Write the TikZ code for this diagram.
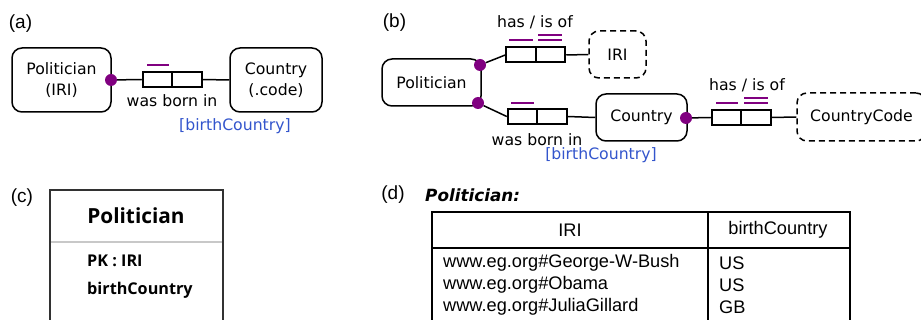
\documentclass[tikz,border=0pt]{standalone}
\usepackage{fontspec}
\setmainfont{DejaVu Sans}
\newfontfamily\labfont{Liberation Sans}
\newfontfamily\clsfont{Open Sans}
\usetikzlibrary{calc}
\definecolor{roleP}{RGB}{128,0,128}
\definecolor{nameB}{RGB}{51,85,204}
\definecolor{clsline}{RGB}{50,50,50}
\definecolor{clssep}{RGB}{200,200,200}
\begin{document}
\begin{tikzpicture}[x=1pt,y=-1pt,
  ent/.style={draw,line width=1.5pt,rounded corners=10pt,inner sep=0pt,align=center,
    font=\fontsize{15.7}{21}\selectfont},
  valent/.style={ent,dash pattern=on 6pt off 4pt},
  rolebox/.style={draw,line width=2pt,minimum width=29.5pt,minimum height=15pt,inner sep=0pt},
  conn/.style={line width=1.5pt},
  roledot/.style={circle,fill=roleP,minimum size=12pt,inner sep=0pt},
  ubar/.style={draw=roleP,line width=2.5pt},
  dtxt/.style={font=\fontsize{15.7}{18}\selectfont,inner sep=0pt},
  rname/.style={dtxt,text=nameB},
  lab/.style={font=\labfont\fontsize{19}{22}\selectfont,inner sep=0pt},
  ttxt/.style={font=\labfont\fontsize{18.2}{21}\selectfont,inner sep=0pt},
  ctxt/.style={font=\clsfont\bfseries\fontsize{16.2}{19}\selectfont,inner sep=0pt},
  tab/.style={line width=2pt},
]
\useasboundingbox (0,0) rectangle (921,320);

% ---------- (a)
\node[lab] (la) at (20.5,23.5) {(a)};
\node[ent,minimum width=99pt,minimum height=64pt] (polA) at (61.5,80) {Politician\\(IRI)};
\node[ent,minimum width=92pt,minimum height=64pt] (ctyA) at (276,80) {Country\\(.code)};
\node[rolebox] (rA1) at (157.5,79.5) {};
\node[rolebox] (rA2) at (187,79.5) {};
\node[roledot] (dA) at (111,80) {};
\draw[conn] (dA) -- (rA1.west);
\draw[conn] (rA2.east) -- (ctyA.west);
\draw[ubar] (147,65) -- (169,65);
\node[dtxt] (wbA) at (172,101) {was born in};
\node[rname] (bcA) at (235,126) {[birthCountry]};

% ---------- (b)
\node[lab] (lb) at (394.5,22.5) {(b)};
\node[ent,minimum width=99pt,minimum height=47pt] (polB) at (431.5,82.5) {Politician};
\node[valent,minimum width=57pt,minimum height=47pt] (iri) at (617.5,54.5) {IRI};
\node[ent,minimum width=91pt,minimum height=47pt] (ctyB) at (641.5,117.5) {Country};
\node[valent,minimum width=129pt,minimum height=48pt] (cc) at (861.5,117) {CountryCode};
\node[rolebox] (rB1) at (521,55) {};
\node[rolebox] (rB2) at (550.5,55) {};
\node[rolebox] (rB3) at (522.5,116.5) {};
\node[rolebox] (rB4) at (552,116.5) {};
\node[rolebox] (rB5) at (726.5,117.5) {};
\node[rolebox] (rB6) at (756,117.5) {};
\node[roledot] (dB1) at (480,65) {};
\node[roledot] (dB2) at (478,103) {};
\node[roledot] (dB3) at (686,118) {};
\draw[conn] (dB1) -- (rB1.west);
\draw[conn] (rB2.east) -- (iri.west);
\draw[conn] (dB2) -- (rB3.west);
\draw[conn] (rB4.east) -- (ctyB.west);
\draw[conn] (dB3) -- (rB5.west);
\draw[conn] (rB6.east) -- (cc.west);
\draw[ubar] (509,40) -- (533,40);
\draw[ubar] (538,35) -- (562,35);
\draw[ubar] (538,40) -- (562,40);
\draw[ubar] (511,103) -- (534,103);
\draw[ubar] (716,103) -- (738,103);
\draw[ubar] (744,98) -- (768,98);
\draw[ubar] (744,103) -- (768,103);
\node[dtxt] (hB1) at (535,22) {has / is of};
\node[dtxt] (hB2) at (747,85) {has / is of};
\node[dtxt] (wbB) at (537,140) {was born in};
\node[rname] (bcB) at (601,155) {[birthCountry]};

% ---------- (c)
\node[lab] (lc) at (22,198) {(c)};
\draw[line width=2pt,draw=clsline] (50,326) -- (50,190) -- (223,190) -- (223,326);
\draw[line width=2pt,draw=clssep] (51,242) -- (222,242);
\node[ctxt,font=\clsfont\bfseries\fontsize{20.8}{24}\selectfont] (ctit) at (136,216) {Politician};
\node[ctxt,anchor=west] (cpk) at (87,261) {PK : IRI};
\node[ctxt,anchor=west] (cbc) at (87,290) {birthCountry};

% ---------- (d)
\node[lab] (ld) at (393,195) {(d)};
\node[font=\bfseries\itshape\fontsize{16.8}{19}\selectfont,inner sep=0pt,anchor=west] (dtit) at (425,195) {Politician:};
\draw[tab] (432,326) -- (432,212) -- (850,212) -- (850,326);
\draw[tab] (432,248) -- (850,248);
\draw[tab] (708,212) -- (708,326);
\node[ttxt] (hIRI) at (570,230) {IRI};
\node[ttxt] (hBC) at (778,230) {birthCountry};
\node[ttxt,anchor=west] (r1a) at (443,263) {www.eg.org\#George-W-Bush};
\node[ttxt,anchor=west] (r2a) at (443,285) {www.eg.org\#Obama};
\node[ttxt,anchor=west] (r3a) at (443,307) {www.eg.org\#JuliaGillard};
\node[ttxt,anchor=west] (r1b) at (719,263) {US};
\node[ttxt,anchor=west] (r2b) at (719,285) {US};
\node[ttxt,anchor=west] (r3b) at (719,307) {GB};
\end{tikzpicture}
\end{document}
